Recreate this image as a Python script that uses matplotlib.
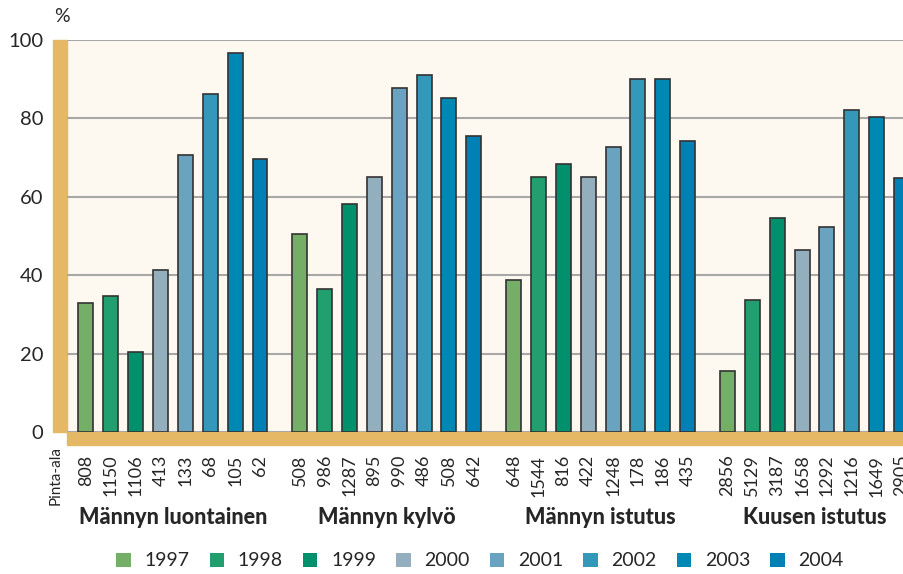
import matplotlib
matplotlib.use("Agg")
import matplotlib.pyplot as plt
import numpy as np
from matplotlib.patches import Rectangle
from matplotlib.transforms import blended_transform_factory

years = ["1997", "1998", "1999", "2000", "2001", "2002", "2003", "2004"]
groups = ["Männyn luontainen", "Männyn kylvö", "Männyn istutus", "Kuusen istutus"]

# % values per group, one per year
luontainen = [33.0, 34.6, 20.5, 41.3, 70.7, 86.2, 96.8, 69.6]
kylvo = [50.5, 36.5, 58.2, 65.0, 87.8, 91.1, 85.2, 75.5]
mannyn_istutus = [38.8, 65.0, 68.4, 65.0, 72.8, 90.1, 90.1, 74.2]
kuusen_istutus = [15.5, 33.6, 54.6, 46.4, 52.3, 82.2, 80.4, 64.9]

# pinta-ala (area) per bar
area_luontainen = [808, 1150, 1106, 413, 133, 68, 105, 62]
area_kylvo = [508, 986, 1287, 895, 990, 486, 508, 642]
area_mannyn_istutus = [648, 1544, 816, 422, 1248, 178, 186, 435]
area_kuusen_istutus = [2856, 5129, 3187, 1658, 1292, 1216, 1649, 2905]

values = [luontainen, kylvo, mannyn_istutus, kuusen_istutus]
areas = [area_luontainen, area_kylvo, area_mannyn_istutus, area_kuusen_istutus]

colors = ["#74ae67", "#219f6e", "#00906b", "#93aebc",
          "#6aa3bf", "#3498bb", "#0088b5", "#0080b4"]
YELLOW = "#e5b865"
GRID = "#a8a8a8"
TEXT = "#262626"

plt.rcParams.update({
    "font.family": ["Lato", "DejaVu Sans"],
    "text.color": TEXT,
})

fig = plt.figure(figsize=(9.04, 5.74), dpi=100)
ax = fig.add_axes([67 / 904, 142 / 574, 837 / 904, 392 / 574])
ax.set_facecolor("#fdf8f0")

group_period = 8.6
handles = []
trans = blended_transform_factory(ax.transData, ax.transAxes)
for g, (vals, ars) in enumerate(zip(values, areas)):
    xs = g * group_period + np.arange(len(years))
    for i, (x, v) in enumerate(zip(xs, vals)):
        b = ax.bar(x, v, width=0.6, color=colors[i], edgecolor="#333333",
                   linewidth=1.2, zorder=3)
        if g == 0:
            handles.append(b)
    for x, a in zip(xs, ars):
        ax.text(x, -0.058, str(a), transform=trans, rotation=90, ha="center",
                va="top", fontsize=13, color=TEXT, clip_on=False)
    ax.text(xs.mean(), -0.218, groups[g], transform=trans, ha="center",
            va="center", fontsize=15.5, fontweight="black", color=TEXT)

ax.set_xlim(-0.76, 32.9)
ax.set_ylim(0, 100)
ax.set_yticks([0, 20, 40, 60, 80, 100])
ax.set_xticks([])
for y in [0, 20, 40, 60, 80, 100]:
    ax.axhline(y, color=GRID, linewidth=1.5, zorder=1)
for s in ax.spines.values():
    s.set_visible(False)
ax.tick_params(axis="y", length=0, pad=17, labelsize=14.5, labelcolor=TEXT)

# yellow axis bands
ax.add_patch(Rectangle((-14 / 837, 0), 14 / 837, 1, transform=ax.transAxes,
                       color=YELLOW, clip_on=False, zorder=0))
ax.add_patch(Rectangle((0, -13 / 392), 1, 13 / 392, transform=ax.transAxes,
                       color=YELLOW, clip_on=False, zorder=0))

fig.text(62 / 904, 1 - 16 / 574, "%", ha="center", va="center", fontsize=14)
fig.text(56 / 904, 1 - 446 / 574, "Pinta-ala", rotation=90, ha="center",
         va="top", fontsize=11)

leg = fig.legend(handles=handles, labels=years, loc="center", ncol=8,
                 bbox_to_anchor=(480 / 904, 1 - 561 / 574), frameon=False,
                 prop={"size": 14},
                 handlelength=0.75, handleheight=0.75,
                 handletextpad=0.7, columnspacing=1.03)
for p in leg.get_patches():
    p.set_edgecolor("none")

fig.savefig("out.png", dpi=100)
